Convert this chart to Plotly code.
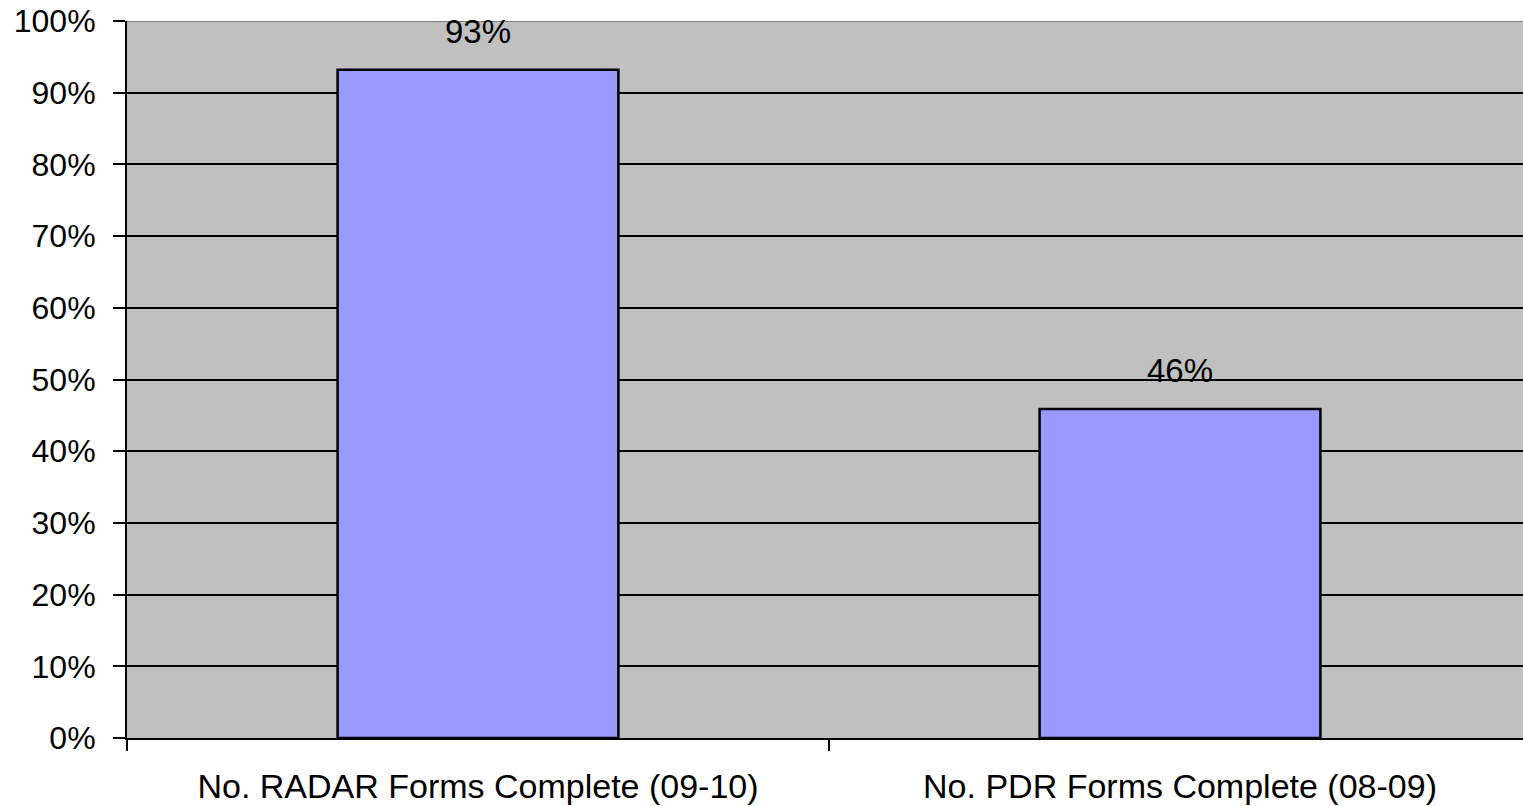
import plotly.graph_objects as go

# Share of forms completed per reporting period
categories = ["No. RADAR Forms Complete (09-10)", "No. PDR Forms Complete (08-09)"]
completion = [0.932, 0.459]
y_ticks = [0.0, 0.1, 0.2, 0.3, 0.4, 0.5, 0.6, 0.7, 0.8, 0.9, 1.0]

FONT = "Liberation Sans, Arial, sans-serif"

fig = go.Figure(
    go.Bar(
        x=categories,
        y=completion,
        width=0.4,
        marker=dict(color="#9999FF", line=dict(color="black", width=2.5)),
        hoverinfo="skip",
    )
)

# value labels above each bar
for cat, val in zip(categories, completion):
    fig.add_annotation(
        x=cat, y=val, text=f"{val:.0%}", showarrow=False,
        yanchor="middle", yshift=38,
        font=dict(family=FONT, size=33, color="black"),
    )

# grey frame line along the top of the plotting area
fig.add_shape(
    type="line", xref="paper", yref="y", x0=0, x1=1, y0=1, y1=1,
    line=dict(color="#808080", width=2),
)

fig.update_layout(
    width=1523, height=806,
    margin=dict(l=127, r=0, t=21, b=68),
    paper_bgcolor="white",
    plot_bgcolor="#C0C0C0",
    showlegend=False,
    font=dict(family=FONT, size=32, color="black"),
)

fig.update_xaxes(
    type="category",
    range=[-0.5, 1.4886],
    showline=True, linecolor="black", linewidth=2,
    ticks="outside", tickson="boundaries", ticklen=11, tickwidth=2, tickcolor="black",
    showgrid=False, zeroline=False,
    ticklabelstandoff=17,
    tickfont=dict(family=FONT, size=34, color="black"),
)

fig.update_yaxes(
    range=[0, 1],
    tickvals=y_ticks,
    tickformat=".0%",
    showline=True, linecolor="black", linewidth=2,
    ticks="outside", ticklen=12, tickwidth=2, tickcolor="black",
    showgrid=True, gridcolor="black", gridwidth=2,
    zeroline=False,
    ticklabelstandoff=11,
    tickfont=dict(family=FONT, size=32, color="black"),
)

fig.write_html("out.html")
